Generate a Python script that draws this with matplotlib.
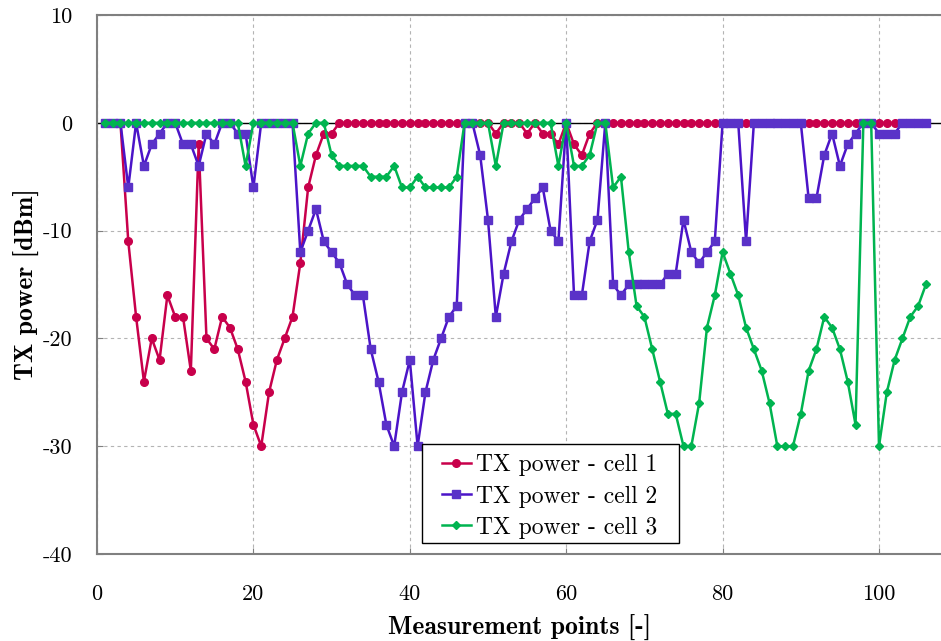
import numpy as np
import matplotlib
matplotlib.use("Agg")
from matplotlib import pyplot as plt
from matplotlib.patches import Rectangle

# measurement index 1..106
points = list(range(1, 107))

cell1 = [0, 0, 0, -11, -18, -24, -20, -22, -16, -18,
         -18, -23, -2, -20, -21, -18, -19, -21, -24, -28,
         -30, -25, -22, -20, -18, -13, -6, -3, -1, -1,
         0, 0, 0, 0, 0, 0, 0, 0, 0, 0,
         0, 0, 0, 0, 0, 0, 0, 0, 0, 0,
         -1, 0, 0, 0, -1, 0, -1, -1, -2, 0,
         -2, -3, -1, 0, 0, 0, 0, 0, 0, 0,
         0, 0, 0, 0, 0, 0, 0, 0, 0, 0,
         0, 0, 0, 0, 0, 0, 0, 0, 0, 0,
         0, 0, 0, 0, 0, 0, 0, 0, 0, 0,
         0, 0, 0, 0, 0, 0]

cell2 = [0, 0, 0, -6, 0, -4, -2, -1, 0, 0,
         -2, -2, -4, -1, -2, 0, 0, -1, -1, -6,
         0, 0, 0, 0, 0, -12, -10, -8, -11, -12,
         -13, -15, -16, -16, -21, -24, -28, -30, -25, -22,
         -30, -25, -22, -20, -18, -17, 0, 0, -3, -9,
         -18, -14, -11, -9, -8, -7, -6, -10, -11, 0,
         -16, -16, -11, -9, 0, -15, -16, -15, -15, -15,
         -15, -15, -14, -14, -9, -12, -13, -12, -11, 0,
         0, 0, -11, 0, 0, 0, 0, 0, 0, 0,
         -7, -7, -3, -1, -4, -2, -1, 0, 0, -1,
         -1, -1, 0, 0, 0, 0]

cell3 = [0, 0, 0, 0, 0, 0, 0, 0, 0, 0,
         0, 0, 0, 0, 0, 0, 0, 0, -4, 0,
         0, 0, 0, 0, 0, -4, -1, 0, 0, -3,
         -4, -4, -4, -4, -5, -5, -5, -4, -6, -6,
         -5, -6, -6, -6, -6, -5, 0, 0, 0, 0,
         -4, 0, 0, 0, 0, 0, 0, 0, -4, 0,
         -4, -4, -3, 0, 0, -6, -5, -12, -17, -18,
         -21, -24, -27, -27, -30, -30, -26, -19, -16, -12,
         -14, -16, -19, -21, -23, -26, -30, -30, -30, -27,
         -23, -21, -18, -19, -21, -24, -28, 0, 0, -30,
         -25, -22, -20, -18, -17, -15]

x_ticks = [0, 20, 40, 60, 80, 100]
y_ticks = [-40, -30, -20, -10, 0, 10]

plt.rcParams['font.family'] = 'cmr10'
plt.rcParams['axes.unicode_minus'] = False
plt.rcParams['mathtext.fontset'] = 'cm'

fig = plt.figure(figsize=(9.41, 6.41), dpi=100)
ax = fig.add_axes([97 / 941, 87 / 641, 844 / 941, 539 / 641])

ax.axhline(0, color='black', lw=1.0, zorder=1)

ax.plot(points, cell1, '-o', color='#c8004b', lw=1.8, ms=5.5,
        label='TX power - cell 1', zorder=3)
ax.plot(points, cell2, '-s', color='#4b14c8', mfc='#5a32c8', mec='#5a32c8',
        lw=1.8, ms=6, label='TX power - cell 2', zorder=4)
ax.plot(points, cell3, '-D', color='#00b450', lw=1.8, ms=4,
        label='TX power - cell 3', zorder=5)

ax.set_xlim(0, 844 / 7.82)
ax.set_ylim(-40, 10)
ax.set_xticks(x_ticks)
ax.set_yticks(y_ticks)
ax.set_xticklabels([str(v) for v in x_ticks])
ax.set_yticklabels([str(v) for v in y_ticks])
ax.tick_params(axis='both', direction='in', length=4, color='#808080',
               labelsize=16)
ax.tick_params(axis='y', pad=18)
ax.tick_params(axis='x', pad=22)

ax.grid(True, color='#b4b4b4', ls='--', lw=0.8, dashes=(3, 3))
ax.set_axisbelow(True)

for side in ['left', 'top', 'bottom']:
    ax.spines[side].set_color('#808080')
    ax.spines[side].set_linewidth(1.5)
ax.spines['right'].set_visible(False)

ax.set_xlabel('Measurement points [-]', fontfamily='cmb10', fontsize=18.5,
              labelpad=8)
ax.set_ylabel('TX power [dBm]', fontfamily='cmb10', fontsize=18.5, labelpad=2)

# legend box drawn separately (wider side padding than top/bottom)
box = Rectangle((0.385, 0.0204), 0.3045, 0.1837, transform=ax.transAxes,
                facecolor='white', edgecolor='black', lw=1.0, zorder=8)
ax.add_patch(box)
leg = ax.legend(loc='center', bbox_to_anchor=(0.536, 0.1067), fontsize=17,
                frameon=False, handlelength=1.25, handletextpad=0.2,
                borderpad=0, labelspacing=0.38, borderaxespad=0)
leg.set_zorder(9)

fig.savefig('out.png', dpi=100)
